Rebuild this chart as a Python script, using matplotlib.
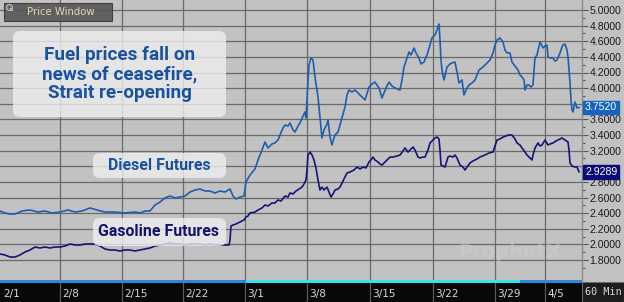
import matplotlib
matplotlib.use("Agg")
import matplotlib.pyplot as plt
from matplotlib.patches import FancyBboxPatch, Rectangle

# ---------------- data ----------------
diesel_x = [0, 5, 10, 15, 22, 30, 38, 45, 52, 60, 68, 75, 82, 90, 97, 105, 115, 125, 135, 140,
            145, 150, 155, 160, 165, 170, 175, 180, 185, 190, 195, 200, 205, 210, 215, 220, 225,
            230, 233, 236, 240, 244, 246, 250, 255, 258, 262, 265, 268, 272, 275, 278, 280, 283,
            285, 288, 290, 293, 295, 298, 300, 303, 305, 306, 307, 308, 309, 311, 313, 315, 317,
            318, 320, 322, 324, 325, 327, 328, 330, 332, 334, 335, 338, 340, 342, 345, 347, 349,
            352, 355, 358, 362, 365, 369, 372, 375, 379, 382, 386, 389, 392, 395, 400, 402, 404,
            407, 409, 411, 414, 416, 419, 421, 424, 427, 430, 432, 435, 437, 439, 440, 441, 442,
            444, 447, 450, 452, 455, 457, 459, 462, 464, 466, 469, 472, 475, 477, 479, 483, 485,
            488, 490, 493, 495, 497, 500, 503, 505, 507, 510, 512, 515, 518, 520, 522, 524, 525,
            527, 529, 531, 533, 534, 535, 537, 540, 543, 545, 547, 548, 550, 553, 555, 557, 560,
            562, 563, 565, 567, 568, 570, 571, 572, 573, 575, 577, 579]
diesel = [2.427, 2.402, 2.389, 2.389, 2.427, 2.440, 2.414, 2.427, 2.402, 2.414, 2.440, 2.414,
          2.427, 2.466, 2.440, 2.414, 2.414, 2.402, 2.414, 2.402, 2.427, 2.427, 2.504, 2.542,
          2.594, 2.619, 2.594, 2.606, 2.619, 2.670, 2.696, 2.709, 2.683, 2.683, 2.658, 2.683,
          2.670, 2.709, 2.619, 2.581, 2.606, 2.619, 2.798, 2.888, 2.965, 3.080, 3.208, 3.310,
          3.234, 3.285, 3.298, 3.336, 3.400, 3.490, 3.528, 3.515, 3.554, 3.464, 3.438, 3.515,
          3.554, 3.643, 3.694, 3.618, 3.848, 4.104, 4.296, 4.386, 4.360, 4.142, 3.976, 3.886,
          3.618, 3.362, 3.464, 3.490, 3.541, 3.592, 3.374, 3.272, 3.362, 3.400, 3.438, 3.528,
          3.618, 3.758, 3.912, 3.976, 3.950, 3.976, 3.938, 3.886, 3.848, 4.014, 4.053, 4.078,
          4.002, 3.874, 4.002, 4.078, 4.027, 4.002, 3.976, 4.104, 4.270, 4.386, 4.462, 4.424,
          4.514, 4.450, 4.386, 4.309, 4.334, 4.424, 4.552, 4.642, 4.680, 4.744, 4.821, 4.616,
          4.360, 4.232, 4.104, 4.270, 4.309, 4.322, 4.334, 4.206, 4.066, 4.104, 3.912, 3.976,
          4.040, 4.066, 4.104, 4.168, 4.232, 4.270, 4.296, 4.334, 4.360, 4.450, 4.552, 4.616,
          4.642, 4.590, 4.488, 4.450, 4.450, 4.334, 4.283, 4.232, 4.168, 4.142, 4.104, 3.976,
          4.040, 4.040, 4.014, 4.040, 4.232, 4.386, 4.424, 4.590, 4.514, 4.539, 4.552, 4.398,
          4.386, 4.386, 4.347, 4.360, 4.450, 4.526, 4.552, 4.565, 4.488, 4.398, 4.066, 3.848,
          3.720, 3.694, 3.822, 3.746, 3.752]

gas_x = [0, 5, 10, 15, 20, 25, 30, 35, 40, 45, 50, 55, 60, 65, 70, 75, 80, 85, 90, 95, 100, 105,
         110, 115, 120, 125, 130, 135, 140, 145, 150, 155, 160, 165, 170, 175, 180, 185, 190, 195,
         200, 205, 210, 215, 220, 225, 229, 230, 231, 233, 236, 240, 244, 246, 248, 250, 255, 258,
         262, 265, 268, 272, 275, 278, 281, 285, 288, 290, 293, 296, 299, 302, 304, 306, 307, 308,
         310, 312, 314, 316, 318, 320, 322, 324, 327, 329, 331, 333, 335, 338, 340, 342, 345, 347,
         350, 354, 357, 360, 363, 366, 369, 371, 373, 375, 378, 380, 382, 385, 388, 390, 393, 397,
         400, 403, 405, 408, 410, 413, 415, 418, 420, 423, 425, 428, 430, 433, 435, 437, 439, 440,
         441, 443, 445, 448, 450, 453, 455, 457, 460, 463, 465, 467, 470, 473, 477, 480, 485, 489,
         493, 495, 497, 500, 503, 506, 508, 512, 515, 517, 520, 522, 525, 527, 530, 532, 533, 535,
         538, 540, 542, 545, 548, 550, 553, 556, 558, 562, 565, 568, 569, 570, 572, 575, 577, 579]
gasoline = [1.877, 1.864, 1.838, 1.838, 1.864, 1.902, 1.928, 1.966, 1.954, 1.966, 1.954, 1.966,
            1.966, 1.979, 2.005, 1.992, 1.992, 2.005, 2.005, 2.005, 1.979, 1.941, 1.928, 1.928,
            1.915, 1.928, 1.928, 1.915, 1.928, 1.941, 1.954, 1.979, 1.992, 2.005, 2.018, 2.005,
            2.005, 1.992, 2.005, 2.005, 2.005, 1.992, 2.005, 1.992, 1.992, 1.992, 1.992, 2.056,
            2.235, 2.248, 2.261, 2.286, 2.312, 2.350, 2.363, 2.402, 2.414, 2.440, 2.466, 2.504,
            2.491, 2.530, 2.530, 2.568, 2.555, 2.619, 2.606, 2.658, 2.645, 2.683, 2.709, 2.734,
            2.773, 2.824, 2.952, 3.144, 3.182, 3.144, 3.080, 2.978, 2.824, 2.696, 2.734, 2.696,
            2.734, 2.670, 2.606, 2.645, 2.696, 2.709, 2.734, 2.786, 2.862, 2.914, 2.926, 2.952,
            2.990, 2.965, 2.990, 2.978, 3.054, 3.080, 3.118, 3.080, 3.054, 3.029, 3.016, 3.054,
            3.093, 3.118, 3.118, 3.131, 3.144, 3.195, 3.234, 3.182, 3.208, 3.246, 3.208, 3.118,
            3.106, 3.118, 3.118, 3.208, 3.298, 3.336, 3.362, 3.374, 3.349, 3.208, 3.016, 3.003,
            2.990, 3.118, 3.131, 3.118, 3.144, 3.106, 3.016, 2.990, 2.952, 2.990, 3.042, 3.067,
            3.093, 3.118, 3.144, 3.170, 3.182, 3.259, 3.336, 3.349, 3.374, 3.387, 3.400, 3.400,
            3.349, 3.298, 3.272, 3.234, 3.182, 3.144, 3.106, 3.080, 3.144, 3.234, 3.298, 3.259,
            3.272, 3.336, 3.272, 3.285, 3.298, 3.323, 3.336, 3.362, 3.336, 3.310, 3.208, 3.042,
            3.003, 2.990, 2.990, 2.929]

tick_pos = [2, 61, 123, 184, 246, 308, 371, 434, 496, 546]
tick_labels = ["2/1", "2/8", "2/15", "2/22", "3/1", "3/8", "3/15", "3/22", "3/29", "4/5"]
y_ticks = [1.8, 2.0, 2.2, 2.4, 2.6, 2.8, 3.0, 3.2, 3.4, 3.6, 3.8, 4.0, 4.2, 4.4, 4.6, 4.8, 5.0]
hidden_labels = [3.0, 3.8]  # covered by the last-value boxes in the original
last_diesel = 3.7520
last_gasoline = 2.9289

# ---------------- styling ----------------
W, H = 624, 302
BG = "#c2c2c2"
GRID = "#6a6a6a"
DIESEL_C = "#1d5fae"
GAS_C = "#14147a"
AXFONT = "Liberation Sans"

fig = plt.figure(figsize=(W / 100, H / 100), dpi=100, facecolor=BG)
plot_right = 582 / W
plot_bottom = (H - 280) / H
ax = fig.add_axes([0, plot_bottom, plot_right, 1 - plot_bottom])
ax.set_facecolor(BG)
ax.set_xlim(0, 582)
ax.set_ylim(1.544, 5.128)

for yv in y_ticks:
    ax.axhline(yv, color=GRID, lw=0.9, zorder=1)
for xv in tick_pos[1:]:
    ax.axvline(xv - 1, color=GRID, lw=0.9, zorder=1)

ax.plot(diesel_x, diesel, color=DIESEL_C, lw=1.2, zorder=3)
ax.plot(gas_x, gasoline, color=GAS_C, lw=1.2, zorder=3)

# right axis
ax.yaxis.tick_right()
ax.set_yticks(y_ticks)
ax.set_yticklabels(["" if any(abs(v - h) < 1e-9 for h in hidden_labels) else f"{v:.4f}"
                    for v in y_ticks], fontsize=7.6, color="#1a1a1a", family=AXFONT)
ax.set_yticks([v + 0.1 for v in y_ticks[:-1]] + [1.7], minor=True)
ax.tick_params(axis="y", which="major", length=4, width=0.8, color="#555555", pad=1.5)
ax.tick_params(axis="y", which="minor", length=2.5, width=0.8, color="#555555")
ax.set_xticks([])
for s in ["top", "left", "bottom"]:
    ax.spines[s].set_visible(False)
ax.spines["right"].set_color("#8a8a8a")
ax.spines["right"].set_linewidth(1.0)

# last value markers
for val, col in [(last_diesel, "#1565c0"), (last_gasoline, "#0c0c78")]:
    ax.annotate(f"{val:.4f}", xy=(1.0, val), xycoords=("axes fraction", "data"),
                xytext=(2.2, 0), textcoords="offset points", ha="left", va="center",
                fontsize=7.6, color="white", family=AXFONT, zorder=6,
                bbox=dict(boxstyle="square,pad=0.18", fc=col, ec=col),
                annotation_clip=False)

# annotation boxes
def label_box(x0, y0, x1, y1, fc, alpha):
    p = FancyBboxPatch((x0 / 582, 1 - y1 / 280), (x1 - x0) / 582, (y1 - y0) / 280,
                       boxstyle="round,pad=0,rounding_size=0.012", transform=ax.transAxes,
                       fc=fc, ec="none", alpha=alpha, zorder=4, mutation_aspect=2)
    ax.add_patch(p)

label_box(13, 31, 226, 117, "#f0f0f0", 0.78)
ax.text(119.5 / 582, 1 - 74 / 280, "Fuel prices fall on\nnews of ceasefire,\nStrait re-opening",
        transform=ax.transAxes, ha="center", va="center", fontsize=13.6,
        fontweight="bold", color="#1a52a0", family="Roboto", linespacing=1.05, zorder=5)

label_box(93, 153, 226, 178, "#f0f0f0", 0.78)
ax.text(159 / 582, 1 - 165.5 / 280, "Diesel Futures", transform=ax.transAxes,
        ha="center", va="center", fontsize=11.4, fontweight="bold",
        color="#1a52a0", family="Roboto", zorder=5)

label_box(93, 218, 226, 246, "#f0f0f0", 0.78)
ax.text(159 / 582, 1 - 231 / 280, "Gasoline Futures", transform=ax.transAxes,
        ha="center", va="center", fontsize=11.4, fontweight="bold",
        color="#13136e", family="Roboto", zorder=5)

# "Price Window" tab
ax.add_patch(Rectangle((4 / 582, 1 - 21 / 280), 108 / 582, 18 / 280, transform=ax.transAxes,
                       fc="#585858", ec="#3a3a3a", lw=0.8, alpha=0.92, zorder=4))
ax.text(61 / 582, 1 - 12 / 280, "Price Window", transform=ax.transAxes, ha="center",
        va="center", fontsize=7.3, color="#e6dab4", family="DejaVu Sans", zorder=5)
# small magnifier icon (drawn as a shape)
ax.plot([8.5 / 582], [1 - 6.5 / 280], transform=ax.transAxes, marker="o", ms=4.2,
        mfc="none", mec="#c8c8c8", mew=0.8, zorder=5)
ax.plot([10.3 / 582, 12.5 / 582], [1 - 8.3 / 280, 1 - 10.5 / 280], transform=ax.transAxes,
        color="#c8c8c8", lw=0.9, zorder=5)

# watermark
ax.text(510 / 582, 1 - 253 / 280, "ProphetX", transform=ax.transAxes, ha="center",
        va="center", fontsize=14, fontweight="bold", color="#cfcfcf", alpha=0.45,
        family="DejaVu Sans", zorder=2)

# bottom date bar
axb = fig.add_axes([0, 0, plot_right, (H - 280) / H])
axb.set_xlim(0, 582)
axb.set_ylim(0, 22)
axb.set_facecolor("#080808")
axb.axis("off")
axb.add_patch(Rectangle((0, 0), 582, 19.3, fc="#080808", ec="none"))
axb.broken_barh([(0, 246), (246, 274), (520, 62)], (19.3, 2.7),
                facecolors=["#2e86de", "#36e3e6", "#2e86de"])
for xp, lab in zip(tick_pos, tick_labels):
    if xp > 5:
        axb.plot([xp - 1, xp - 1], [0, 19.3], color="#5a5a5a", lw=0.9)
    axb.text(xp + 1 if xp > 5 else 3, 8, lab, ha="left", va="center", fontsize=7.6,
             color="#d8d8d8", family="DejaVu Sans")

# bottom-right "60 Min"
axc = fig.add_axes([plot_right, 0, 1 - plot_right, (H - 282) / H])
axc.set_facecolor("#1c1c1c")
axc.set_xticks([])
axc.set_yticks([])
for s in axc.spines.values():
    s.set_color("#6a6a6a")
axc.text(0.5, 0.5, "60 Min", ha="center", va="center", fontsize=7.3, color="#d8d8d8",
         family="DejaVu Sans Mono", transform=axc.transAxes)

fig.savefig("out.png", dpi=100, facecolor=BG)
